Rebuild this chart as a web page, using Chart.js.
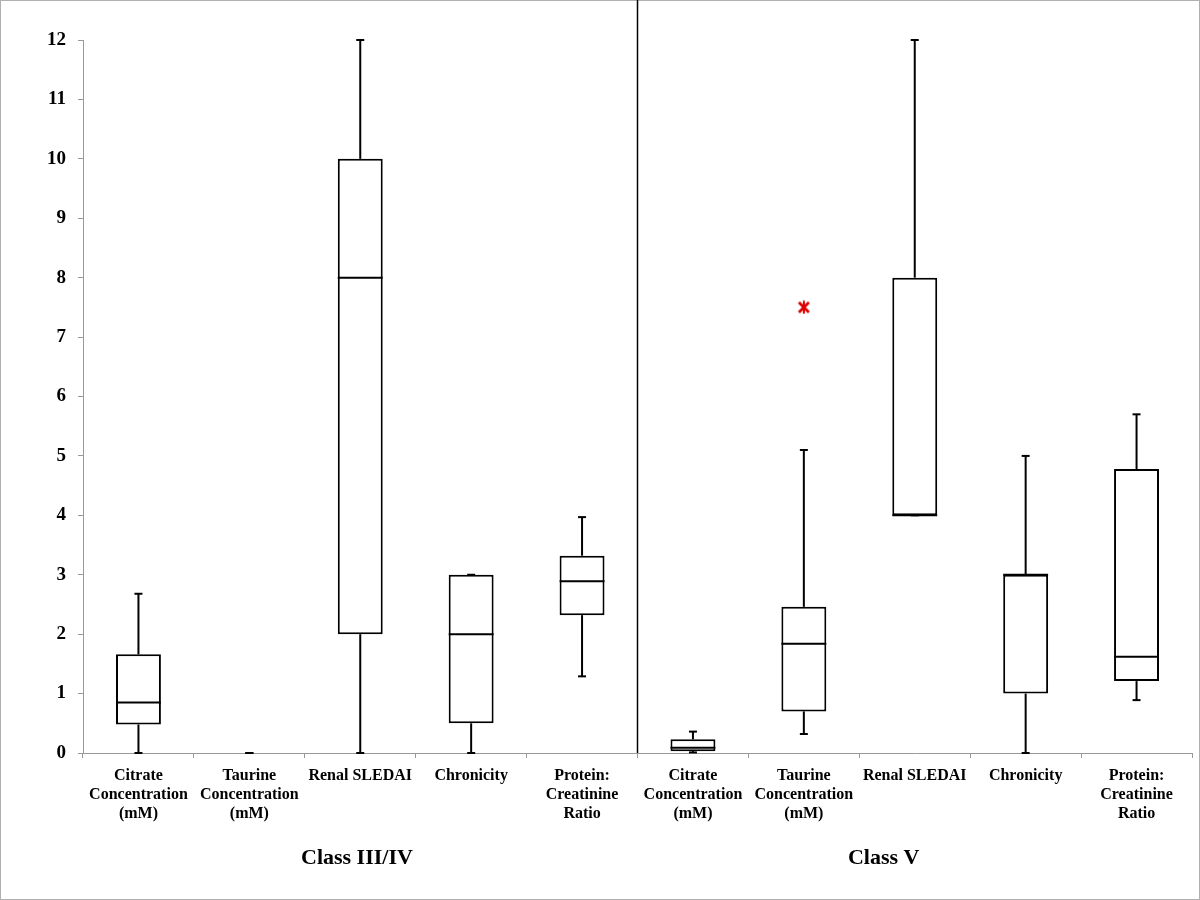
<!DOCTYPE html>
<html>
<head>
<meta charset="utf-8">
<script src="https://cdn.jsdelivr.net/npm/chart.js@4/dist/chart.umd.min.js"></script>
<style>
html,body{margin:0;padding:0;background:#fff;}
canvas{display:block;}
</style>
</head>
<body>
<canvas id="c" width="1200" height="900"></canvas>
<script>
const categories = [
  ["Citrate","Concentration","(mM)"], ["Taurine","Concentration","(mM)"], "Renal SLEDAI", "Chronicity", ["Protein:","Creatinine","Ratio"],
  ["Citrate","Concentration","(mM)"], ["Taurine","Concentration","(mM)"], "Renal SLEDAI", "Chronicity", ["Protein:","Creatinine","Ratio"]
];
const groupLabels = ["Class III/IV", "Class V"];
const mins    = [0,    0, 0,  0,   1.29, 0.01, 0.32, 4,  0, 0.89];
const q1s     = [0.48, 0, 2,  0.5, 2.32, 0.03, 0.70, 4,  1, 1.21];
const medians = [0.85, 0, 8,  2,   2.89, 0.09, 1.84, 4,  3, 1.62];
const q3s     = [1.66, 0, 10, 3,   3.32, 0.23, 2.46, 8,  3, 4.78];
const maxs    = [2.68, 0, 12, 3,   3.97, 0.36, 5.10, 12, 5, 5.70];
const outliers = [null, null, null, null, null, null, 7.5, null, null, null];
const yTicks = [0,1,2,3,4,5,6,7,8,9,10,11,12];

const FONT = "'Liberation Serif', 'Times New Roman', serif";

const boxData = q1s.map((q, i) => q3s[i] > q ? [q, q3s[i]] : null);

// asterisk-like marker (X with vertical stroke)
const starMark = document.createElement('canvas');
starMark.width = 14; starMark.height = 14;
(function () {
  const g = starMark.getContext('2d');
  g.strokeStyle = '#e00000';
  g.lineWidth = 2.8;
  g.lineCap = 'butt';
  g.beginPath();
  g.moveTo(2, 2); g.lineTo(12, 12);
  g.moveTo(12, 2); g.lineTo(2, 12);
  g.stroke();
  g.lineWidth = 2;
  g.beginPath();
  g.moveTo(7, 0.5); g.lineTo(7, 13.5);
  g.stroke();
})();

const boxPlugin = {
  id: 'boxParts',
  beforeDraw(chart) {
    const ctx = chart.ctx;
    ctx.save();
    ctx.fillStyle = '#fff';
    ctx.fillRect(0, 0, chart.width, chart.height);
    ctx.strokeStyle = '#b0b0b0';
    ctx.lineWidth = 1;
    ctx.strokeRect(0.5, 0.5, chart.width - 1, chart.height - 1);
    ctx.restore();
  },
  afterDatasetsDraw(chart) {
    const ctx = chart.ctx;
    const x = chart.scales.x, y = chart.scales.y;
    const boxMeta = chart.getDatasetMeta(0);
    ctx.save();
    ctx.strokeStyle = '#000';
    ctx.lineWidth = 2;
    ctx.lineCap = 'butt';
    const cap = 4;
    for (let i = 0; i < categories.length; i++) {
      const cx = x.getPixelForValue(i);
      const seg = (a, b) => {
        if (b <= a) return;
        ctx.beginPath();
        ctx.moveTo(cx, y.getPixelForValue(a));
        ctx.lineTo(cx, y.getPixelForValue(b));
        ctx.stroke();
      };
      seg(mins[i], q1s[i]);
      seg(q3s[i], maxs[i]);
      [mins[i], maxs[i]].forEach(v => {
        const py = y.getPixelForValue(v);
        ctx.beginPath();
        ctx.moveTo(cx - cap, py);
        ctx.lineTo(cx + cap, py);
        ctx.stroke();
      });
      const el = boxMeta.data[i];
      if (el && boxData[i]) {
        const half = el.width / 2;
        const py = y.getPixelForValue(medians[i]);
        ctx.beginPath();
        ctx.moveTo(cx - half, py);
        ctx.lineTo(cx + half, py);
        ctx.stroke();
      }
    }
    ctx.restore();
  },
  afterDraw(chart) {
    const ctx = chart.ctx;
    const x = chart.scales.x;
    const area = chart.chartArea;
    ctx.save();
    const sx = x.getPixelForValue(4.5);
    ctx.strokeStyle = '#000';
    ctx.lineWidth = 1.5;
    ctx.beginPath();
    ctx.moveTo(sx, 0);
    ctx.lineTo(sx, area.bottom);
    ctx.stroke();
    ctx.fillStyle = '#000';
    ctx.font = "bold 22px " + FONT;
    ctx.textAlign = 'center';
    ctx.textBaseline = 'middle';
    const groupPos = [1.97, 6.72];
    groupLabels.forEach((t, k) => {
      ctx.fillText(t, x.getPixelForValue(groupPos[k]), 858);
    });
    ctx.restore();
  }
};

new Chart(document.getElementById('c'), {
  type: 'bar',
  data: {
    labels: categories,
    datasets: [
      {
        type: 'bar',
        data: boxData,
        backgroundColor: '#fff',
        borderColor: '#000',
        borderWidth: 2,
        borderSkipped: false,
        categoryPercentage: 1,
        barPercentage: 0.405,
        grouped: false,
        order: 2
      },
      {
        type: 'line',
        data: outliers,
        showLine: false,
        pointStyle: starMark,
        pointRadius: 7,
        order: 1
      }
    ]
  },
  options: {
    responsive: false,
    animation: false,
    layout: { padding: { top: 40, right: 7, left: 0, bottom: 0 } },
    plugins: { legend: { display: false }, tooltip: { enabled: false } },
    scales: {
      x: {
        offset: true,
        grid: { offset: true, drawOnChartArea: false, drawTicks: true, tickLength: 5, color: '#999', lineWidth: 1 },
        border: { display: true, color: '#999', width: 1 },
        ticks: {
          color: '#000', maxRotation: 0, autoSkip: false, padding: 8,
          font: { family: FONT, size: 16, weight: 'bold', lineHeight: 1.2 }
        },
        afterFit(scale) { scale.height = 147; }
      },
      y: {
        min: 0, max: 12,
        afterBuildTicks(scale) { scale.ticks = yTicks.map(v => ({ value: v })); },
        grid: { drawOnChartArea: false, drawTicks: true, tickLength: 5, color: '#999', lineWidth: 1 },
        border: { display: true, color: '#999', width: 1 },
        ticks: {
          color: '#000', padding: 12,
          font: { family: FONT, size: 19, weight: 'bold' }
        },
        afterFit(scale) { scale.width = 83; }
      }
    }
  },
  plugins: [boxPlugin]
});
</script>
</body>
</html>
